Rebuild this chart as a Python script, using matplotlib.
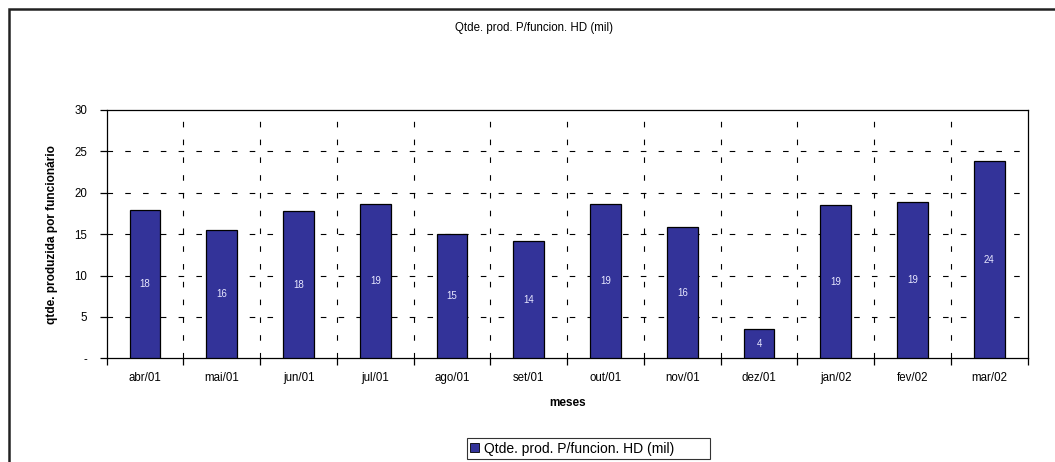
import matplotlib
matplotlib.use("Agg")
import matplotlib.pyplot as plt
from matplotlib.patches import Rectangle, Patch

plt.rcParams['font.family'] = ['Liberation Sans', 'DejaVu Sans']

months = ["abr/01", "mai/01", "jun/01", "jul/01", "ago/01", "set/01",
          "out/01", "nov/01", "dez/01", "jan/02", "fev/02", "mar/02"]
values = [17.95, 15.5, 17.8, 18.7, 15.0, 14.2, 18.6, 15.85, 3.5, 18.5, 18.9, 23.8]
labels = ["18", "16", "18", "19", "15", "14", "19", "16", "4", "19", "19", "24"]
series_name = "Qtde. prod. P/funcion. HD (mil)"
title = "Qtde. prod. P/funcion. HD (mil)"
yticks = [0, 5, 10, 15, 20, 25, 30]
ytick_labels = ["-", "5", "10", "15", "20", "25", "30"]

bar_color = "#333399"

fig = plt.figure(figsize=(10.55, 4.62), dpi=100)
ax = fig.add_axes([106.7/1055, 1-358.3/462, (1027.7-106.7)/1055, (358.3-110)/462])

x = list(range(len(months)))
bars = ax.bar(x, values, width=0.4, color=bar_color, edgecolor="black", linewidth=0.9, zorder=3)
for xi, v, lab in zip(x, values, labels):
    ax.text(xi, v/2, lab, ha="center", va="center", color="#e8e8ff", fontsize=7, zorder=4)

ax.set_xlim(-0.5, len(months)-0.5)
ax.set_ylim(0, 30)
ax.set_yticks(yticks)
ax.set_yticklabels(ytick_labels, fontsize=8.3)
ax.set_xticks(x)
ax.set_xticklabels(months, fontsize=8.3)
ax.tick_params(axis='x', length=0, pad=10)
ax.set_xticks([i - 0.5 for i in range(len(months)+1)], minor=True)
ax.tick_params(axis='x', which='minor', length=5, direction='out', width=0.9)
ax.tick_params(axis='y', length=5, direction='out', width=0.9, pad=9)

# gridlines
for yv in [5, 10, 15, 20, 25]:
    ax.axhline(yv, color="black", linestyle=(0, (5, 11)), linewidth=0.8, zorder=1)
for i in range(1, len(months)):
    ax.axvline(i - 0.5, color="black", linestyle=(0, (5, 11)), linewidth=0.8, zorder=1)

for s in ax.spines.values():
    s.set_linewidth(0.9)
    s.set_color("black")

ax.set_xlabel("meses", fontsize=8.5, fontweight="bold", labelpad=9)
ax.set_ylabel("qtde. produzida por funcionário", fontsize=8.6, fontweight="bold", labelpad=12)

fig.text(534/1055, 1-28/462, title, ha="center", va="center", fontsize=8.3)

leg = fig.legend([Patch(facecolor=bar_color, edgecolor="black", linewidth=0.6)], [series_name],
                 loc="center", mode="expand",
                 bbox_to_anchor=(467/1055, 1-459/462, 243/1055, 21/462), fontsize=10,
                 frameon=True, fancybox=False, handlelength=0.6, handleheight=0.6,
                 handletextpad=0.4, borderpad=0.25, borderaxespad=0)
leg.get_frame().set_edgecolor("black")
leg.get_frame().set_linewidth(0.8)

# outer chart border (cropped on right and bottom)
fig.patches.append(Rectangle((8.5/1055, -0.1), 1.2, 1 - 9/462 + 0.1, transform=fig.transFigure,
                             fill=False, edgecolor="#222222", linewidth=1.8))

fig.savefig("out.png", dpi=100)
